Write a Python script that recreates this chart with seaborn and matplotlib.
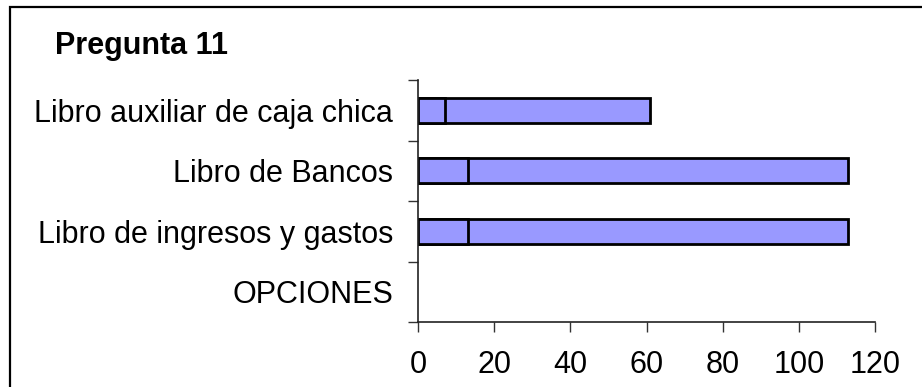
import matplotlib
matplotlib.use("Agg")
import matplotlib.pyplot as plt
from matplotlib.patches import Rectangle
from matplotlib.ticker import FixedLocator
import seaborn as sns
import pandas as pd

# Survey answers for question 11 (two stacked series per option)
categories = ["Libro auxiliar de caja chica", "Libro de Bancos",
              "Libro de ingresos y gastos", "OPCIONES"]
serie_1 = [7, 13, 13, 0]
serie_2 = [54, 100, 100, 0]
x_ticks = [0, 20, 40, 60, 80, 100, 120]
title = "Pregunta 11"

df = pd.DataFrame({"opcion": categories, "s1": serie_1, "s2": serie_2})
df["total"] = df["s1"] + df["s2"]

sns.set_theme(style="white")
plt.rcParams["font.family"] = ["Liberation Sans", "DejaVu Sans"]

fig = plt.figure(figsize=(9.22, 3.87), dpi=100)
W, H = 922, 387
ax = fig.add_axes([418 / W, 1 - 322 / H, (875 - 418) / W, (322 - 80) / H])

bar_color = "#9999FF"
bar_kw = dict(orient="h", color=bar_color, edgecolor="black", linewidth=2.0,
              width=0.41, saturation=1, ax=ax, order=categories)
sns.barplot(data=df, x="total", y="opcion", **bar_kw)
sns.barplot(data=df, x="s1", y="opcion", **bar_kw)

# empty options get no outline
for p in ax.patches:
    if p.get_width() == 0:
        p.set_linewidth(0)

ax.set_xlim(0, 120)
ax.set_ylim(3.5, -0.5)
ax.set_xlabel("")
ax.set_ylabel("")

ax.xaxis.set_major_locator(FixedLocator(x_ticks))
ax.set_xticklabels([str(v) for v in x_ticks])

# Category tick marks sit on the boundaries; labels sit at the centres
ax.yaxis.set_major_locator(FixedLocator([-0.5, 0.5, 1.5, 2.5, 3.5]))
ax.yaxis.set_major_formatter(plt.NullFormatter())
ax.yaxis.set_minor_locator(FixedLocator(range(len(categories))))
ax.set_yticklabels(categories, minor=True)

ax.tick_params(axis="y", which="major", direction="out", length=7.2,
               width=1, color="#333333", left=True)
ax.tick_params(axis="y", which="minor", length=0, pad=18, labelsize=22,
               labelcolor="black", left=True)
ax.tick_params(axis="x", direction="out", length=7, width=1,
               color="#333333", bottom=True, labelsize=22, pad=13,
               labelcolor="black")

for side in ("top", "right"):
    ax.spines[side].set_visible(False)
for side in ("left", "bottom"):
    ax.spines[side].set_color("#222222")
    ax.spines[side].set_linewidth(1.2)

fig.text(55 / W, 1 - 46 / H, title, fontsize=22, fontweight="bold",
         ha="left", va="center", color="black")

# Outer chart-area border
fig.patches.append(Rectangle((10 / W, -0.2), 1.2, 1 - 7 / H + 0.2,
                             transform=fig.transFigure, fill=False,
                             edgecolor="black", linewidth=1.6))

fig.savefig("out.png", dpi=100)
